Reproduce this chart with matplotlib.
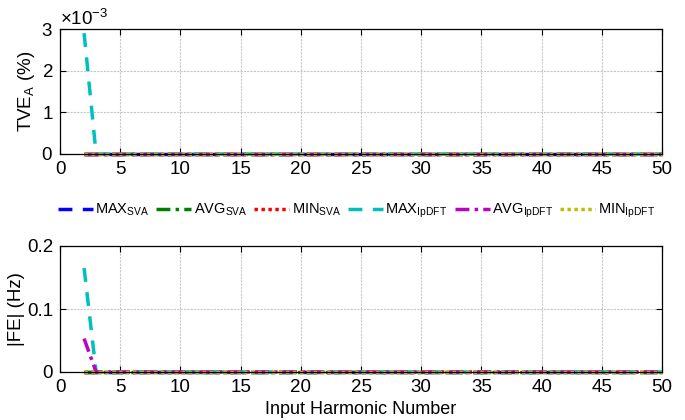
import numpy as np
import matplotlib
matplotlib.use("Agg")
import matplotlib.pyplot as plt
from matplotlib.ticker import ScalarFormatter

plt.rcParams['font.family'] = ['Liberation Sans', 'DejaVu Sans']
plt.rcParams['mathtext.fontset'] = 'custom'
plt.rcParams['mathtext.rm'] = 'Liberation Sans'
plt.rcParams['mathtext.it'] = 'Liberation Sans'
plt.rcParams['mathtext.default'] = 'regular'

harmonics = np.arange(2, 51)
n = len(harmonics)

tve_max_sva = np.zeros(n)
tve_avg_sva = np.zeros(n)
tve_min_sva = np.zeros(n)
tve_max_ipdft = np.zeros(n); tve_max_ipdft[0] = 2.9e-3
tve_avg_ipdft = np.zeros(n)
tve_min_ipdft = np.zeros(n)

fe_max_sva = np.zeros(n)
fe_avg_sva = np.zeros(n)
fe_min_sva = np.zeros(n)
fe_max_ipdft = np.zeros(n); fe_max_ipdft[0] = 0.165
fe_avg_ipdft = np.zeros(n); fe_avg_ipdft[0] = 0.053
fe_min_ipdft = np.zeros(n)

labels = [r'MAX$_{SVA}$', r'AVG$_{SVA}$', r'MIN$_{SVA}$',
          r'MAX$_{IpDFT}$', r'AVG$_{IpDFT}$', r'MIN$_{IpDFT}$']
colors = ['#0000ff', '#008000', '#ff0000', '#00bfbf', '#bf00bf', '#bfbf00']
styles = [(0, (4, 3)), (0, (4, 1.5, 1, 1.5)), (0, (1, 1)),
          (0, (4, 3)), (0, (4, 1.5, 1, 1.5)), (0, (1, 1))]
xticks = [0, 5, 10, 15, 20, 25, 30, 35, 40, 45, 50]

fig = plt.figure(figsize=(6.85, 4.2), dpi=100)
ax1 = fig.add_axes([60/685, 1-154/420, 602/685, 125/420])
ax2 = fig.add_axes([60/685, 1-372/420, 602/685, 126/420])

lines = []
for ax, series in [(ax1, [tve_max_sva, tve_avg_sva, tve_min_sva, tve_max_ipdft, tve_avg_ipdft, tve_min_ipdft]),
                   (ax2, [fe_max_sva, fe_avg_sva, fe_min_sva, fe_max_ipdft, fe_avg_ipdft, fe_min_ipdft])]:
    lines = []
    for s, c, ls, lab in zip(series, colors, styles, labels):
        l, = ax.plot(harmonics, s, color=c, linestyle=ls, linewidth=2.5, label=lab, clip_on=False)
        lines.append(l)
    ax.set_xlim(0, 50)
    ax.set_xticks(xticks)
    ax.grid(True, color='#c8c8c8', linestyle=(0, (2, 1)), linewidth=0.8)
    ax.tick_params(direction='in', labelsize=13.5, length=4, top=True, right=True, pad=5)
    for sp in ax.spines.values():
        sp.set_linewidth(0.9)

ax1.set_ylim(0, 3e-3)
ax1.set_yticks([0, 1e-3, 2e-3, 3e-3])
fmt = ScalarFormatter(useMathText=True)
fmt.set_powerlimits((0, 0))
ax1.yaxis.set_major_formatter(fmt)
ax1.yaxis.get_offset_text().set_fontsize(13.5)
ax1.set_ylabel(r'TVE$_{A}$ (%)', fontsize=13.5, labelpad=3)

ax2.set_ylim(0, 0.2)
ax2.set_yticks([0, 0.1, 0.2])
ax2.set_yticklabels(['0', '0.1', '0.2'])
ax2.set_ylabel('|FE| (Hz)', fontsize=13.5, labelpad=1)
ax2.set_xlabel('Input Harmonic Number', fontsize=13, labelpad=4)

fig.legend(handles=lines, labels=labels, loc='center', bbox_to_anchor=(0.52, 1-211/420),
           ncol=6, frameon=False, fontsize=10.5, handlelength=2.4, handletextpad=0.15,
           columnspacing=0.5)

fig.savefig('out.png', dpi=100)
